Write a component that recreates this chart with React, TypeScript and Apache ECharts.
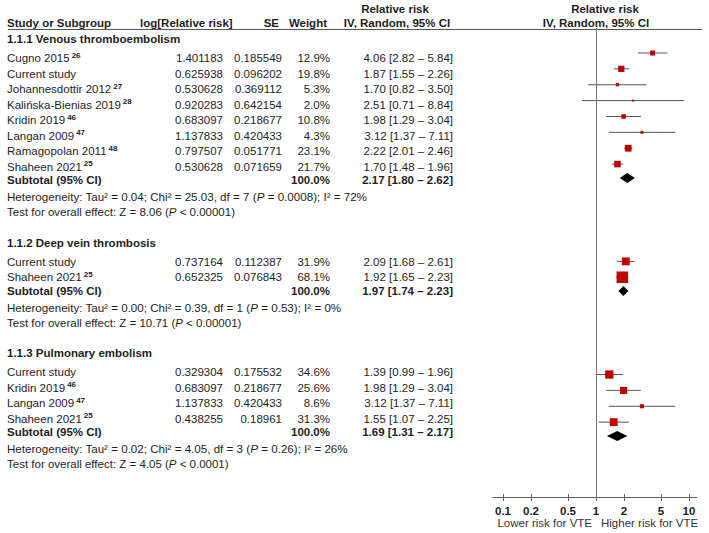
import React, { useEffect, useRef } from "react";
import * as echarts from "echarts";

// ---------------- DATA ----------------
const groupTitles = [
  "1.1.1 Venous thromboembolism",
  "1.1.2 Deep vein thrombosis",
  "1.1.3 Pulmonary embolism",
];

const studyNames = [
  ["Cugno 2015", "Current study", "Johannesdottir 2012", "Kalińska-Bienias 2019", "Kridin 2019", "Langan 2009", "Ramagopolan 2011", "Shaheen 2021"],
  ["Current study", "Shaheen 2021"],
  ["Current study", "Kridin 2019", "Langan 2009", "Shaheen 2021"],
];
const studyRefs = [
  ["26", "", "27", "28", "46", "47", "48", "25"],
  ["", "25"],
  ["", "46", "47", "25"],
];
const logRR = [
  [1.401183, 0.625938, 0.530628, 0.920283, 0.683097, 1.137833, 0.797507, 0.530628],
  [0.737164, 0.652325],
  [0.329304, 0.683097, 1.137833, 0.438255],
];
const seValues = [
  [0.185549, 0.096202, 0.369112, 0.642154, 0.218677, 0.420433, 0.051771, 0.071659],
  [0.112387, 0.076843],
  [0.175532, 0.218677, 0.420433, 0.18961],
];
const weights = [
  [12.9, 19.8, 5.3, 2.0, 10.8, 4.3, 23.1, 21.7],
  [31.9, 68.1],
  [34.6, 25.6, 8.6, 31.3],
];
const rrMid = [
  [4.06, 1.87, 1.7, 2.51, 1.98, 3.12, 2.22, 1.7],
  [2.09, 1.92],
  [1.39, 1.98, 3.12, 1.55],
];
const rrLow = [
  [2.82, 1.55, 0.82, 0.71, 1.29, 1.37, 2.01, 1.48],
  [1.68, 1.65],
  [0.99, 1.29, 1.37, 1.07],
];
const rrHigh = [
  [5.84, 2.26, 3.5, 8.84, 3.04, 7.11, 2.46, 1.96],
  [2.61, 2.23],
  [1.96, 3.04, 7.11, 2.25],
];
const subRR = [2.17, 1.97, 1.69];
const subLow = [1.8, 1.74, 1.31];
const subHigh = [2.62, 2.23, 2.17];
const hetTau = ["0.04", "0.00", "0.02"];
const hetChi = ["25.03", "0.39", "4.05"];
const hetDf = ["7", "1", "3"];
const hetP = ["0.0008", "0.53", "0.26"];
const hetI2 = ["72%", "0%", "26%"];
const testZ = ["8.06", "10.71", "4.05"];
const testP = ["< 0.00001", "< 0.00001", "< 0.0001"];
const tickValues = [0.1, 0.2, 0.5, 1, 2, 5, 10];

// ---------------- LAYOUT ----------------
const W = 709;
const H = 533;
const FONT = "Liberation Sans, Arial, sans-serif";
const FS = 11.5;
const FS_HET = 11.6;
const TEXT = "#1e1e1e";
const RED = "#c00000";

const colName = 7;
const colLog = 223;
const colSE = 282;
const colW = 330;
const colRR = 453;

const plotLeft = 493;
const plotRight = 697;
const plotTop = 28;
const plotBottom = 497;
const xMin = -1.1075;
const xMax = 1.086;
// marker rows are drawn slightly stretched relative to the text rows
const rowK = 1.024;
const rowC = -6.4;

function computeRows() {
  const out: any[] = [];
  let y = 39;
  for (let g = 0; g < groupTitles.length; g++) {
    const head = y;
    y += 19;
    const studies: number[] = [];
    for (let i = 0; i < studyNames[g].length; i++) {
      studies.push(y);
      if (i < studyNames[g].length - 1) y += 15.5;
    }
    y += 13.5;
    const sub = y;
    y += 16.5;
    const het = y;
    y += 15.5;
    const test = y;
    y += 30.5;
    out.push({ head, studies, sub, het, test });
  }
  return out;
}

function rrText(m: number, l: number, h: number) {
  return `${m.toFixed(2)} [${l.toFixed(2)} – ${h.toFixed(2)}]`;
}

function txt(x: number, y: number, text: string, opts: any = {}) {
  const align = opts.align || "left";
  return {
    type: "text",
    x,
    y,
    silent: true,
    style: {
      text,
      fill: opts.fill || TEXT,
      fontFamily: FONT,
      fontSize: opts.fontSize || FS,
      fontWeight: opts.bold ? "bold" : "normal",
      align,
      textAlign: align,
      verticalAlign: "middle",
      textVerticalAlign: "middle",
      rich: opts.rich,
    },
  };
}

const baseRich = {
  n: { fontFamily: FONT, fontSize: FS, fill: TEXT, color: TEXT, lineHeight: 14 },
  i: { fontFamily: FONT, fontSize: FS, fill: TEXT, color: TEXT, fontStyle: "italic", lineHeight: 14 },
  s: { fontFamily: FONT, fontSize: 8, fontWeight: "bold", fill: TEXT, color: TEXT, verticalAlign: "top", lineHeight: 8, padding: [0, 0, 0, 2] },
};
const hetRich = {
  n: { fontFamily: FONT, fontSize: FS_HET, fill: TEXT, color: TEXT, lineHeight: 14 },
  i: { fontFamily: FONT, fontSize: FS_HET, fill: TEXT, color: TEXT, fontStyle: "italic", lineHeight: 14 },
};

export default function App() {
  const ref = useRef<HTMLDivElement>(null);

  useEffect(() => {
    if (!ref.current) return;
    const chart = echarts.init(ref.current, undefined, { renderer: "svg" });
    const rows = computeRows();

    const graphics: any[] = [];
    // headers
    graphics.push(txt(395, 9, "Relative risk", { bold: true, align: "center" }));
    graphics.push(txt(605, 9, "Relative risk", { bold: true, align: "center" }));
    graphics.push(txt(7, 23, "Study or Subgroup", { bold: true }));
    graphics.push(txt(140, 23, "log[Relative risk]", { bold: true }));
    graphics.push(txt(279, 23, "SE", { bold: true, align: "right" }));
    graphics.push(txt(327, 23, "Weight", { bold: true, align: "right" }));
    graphics.push(txt(397, 23, "IV, Random, 95% CI", { bold: true, align: "center" }));
    graphics.push(txt(596, 23, "IV, Random, 95% CI", { bold: true, align: "center" }));
    graphics.push({
      type: "line",
      silent: true,
      shape: { x1: 8, y1: 29.5, x2: 702, y2: 29.5 },
      style: { stroke: "#555", lineWidth: 1 },
    });

    const studyData: any[] = [];
    const diamondData: any[] = [];

    rows.forEach((r: any, g: number) => {
      graphics.push(txt(colName, r.head, groupTitles[g], { bold: true }));
      studyNames[g].forEach((name: string, i: number) => {
        const y = r.studies[i];
        const ref = studyRefs[g][i];
        if (ref) {
          graphics.push(txt(colName, y, `{n|${name}}{s|${ref}}`, { rich: baseRich }));
        } else {
          graphics.push(txt(colName, y, name));
        }
        graphics.push(txt(colLog, y, String(logRR[g][i]), { align: "right" }));
        graphics.push(txt(colSE, y, String(seValues[g][i]), { align: "right" }));
        graphics.push(txt(colW, y, weights[g][i].toFixed(1) + "%", { align: "right" }));
        graphics.push(txt(colRR, y, rrText(rrMid[g][i], rrLow[g][i], rrHigh[g][i]), { align: "right" }));
        studyData.push([
          Math.log10(rrMid[g][i]),
          y,
          Math.log10(rrLow[g][i]),
          Math.log10(rrHigh[g][i]),
          weights[g][i],
        ]);
      });
      graphics.push(txt(colName, r.sub, "Subtotal (95% CI)", { bold: true }));
      graphics.push(txt(colW, r.sub, "100.0%", { bold: true, align: "right" }));
      graphics.push(txt(colRR, r.sub, rrText(subRR[g], subLow[g], subHigh[g]), { bold: true, align: "right" }));
      diamondData.push([Math.log10(subRR[g]), r.sub, Math.log10(subLow[g]), Math.log10(subHigh[g])]);

      graphics.push(
        txt(
          colName,
          r.het,
          `{n|Heterogeneity: Tau² = ${hetTau[g]}; Chi² = ${hetChi[g]}, df = ${hetDf[g]} (}{i|P}{n| = ${hetP[g]}); I² = ${hetI2[g]}}`,
          { rich: hetRich }
        )
      );
      graphics.push(
        txt(colName, r.test, `{n|Test for overall effect: Z = ${testZ[g]} (}{i|P}{n| ${testP[g]})}`, {
          rich: baseRich,
        })
      );
    });

    graphics.push(txt(592, 523, "Lower risk for VTE", { align: "right", fill: "#333" }));
    graphics.push(txt(601, 523, "Higher risk for VTE", { align: "left", fill: "#333" }));

    const gridH = plotBottom - plotTop;
    const yMin = (plotTop - rowC) / rowK;
    const yMax = yMin + gridH / rowK;
    const tickLogs = tickValues.map((t) => Math.log10(t));

    const option: any = {
      animation: false,
      grid: {
        left: plotLeft,
        right: W - plotRight,
        top: plotTop,
        bottom: H - plotBottom,
        containLabel: false,
      },
      xAxis: [
        {
          type: "value",
          min: xMin,
          max: xMax,
          axisLine: { show: true, lineStyle: { color: "#666", width: 1 } },
          axisTick: { show: true, customValues: tickLogs, length: 4, lineStyle: { color: "#666" } },
          axisLabel: {
            show: true,
            customValues: tickLogs,
            margin: 8,
            fontFamily: FONT,
            fontSize: FS,
            fontWeight: "bold",
            color: TEXT,
            formatter: (v: number) => {
              const t = tickValues.find((tv) => Math.abs(Math.log10(tv) - v) < 1e-6);
              return t === undefined ? "" : String(t);
            },
          },
          splitLine: { show: false },
        },
        {
          type: "value",
          position: "bottom",
          min: xMin,
          max: xMax,
          axisLine: { show: false },
          axisTick: { show: true, inside: true, customValues: tickLogs, length: 3, lineStyle: { color: "#666" } },
          axisLabel: { show: false },
          splitLine: { show: false },
        },
      ],
      yAxis: {
        type: "value",
        inverse: true,
        min: yMin,
        max: yMax,
        show: false,
        splitLine: { show: false },
      },
      series: [
        {
          type: "custom",
          name: "studies",
          data: studyData,
          encode: { x: 0, y: 1 },
          clip: false,
          renderItem: (params: any, api: any) => {
            const y = api.value(1);
            const c = api.coord([api.value(0), y]);
            const lo = api.coord([api.value(2), y]);
            const hi = api.coord([api.value(3), y]);
            const s = Math.max(2, 1.4 * Math.sqrt(api.value(4)));
            return {
              type: "group",
              children: [
                {
                  type: "line",
                  shape: { x1: lo[0], y1: c[1], x2: hi[0], y2: c[1] },
                  style: { stroke: "#555", lineWidth: 1 },
                },
                {
                  type: "rect",
                  shape: { x: c[0] - s / 2, y: c[1] - s / 2, width: s, height: s },
                  style: { fill: RED },
                },
              ],
            };
          },
          markLine: {
            silent: true,
            symbol: ["none", "none"],
            label: { show: false },
            lineStyle: { color: "#777", width: 1, type: "solid" },
            data: [{ xAxis: 0 }],
          },
          z: 3,
        },
        {
          type: "custom",
          name: "subtotals",
          data: diamondData,
          encode: { x: 0, y: 1 },
          renderItem: (params: any, api: any) => {
            const y = api.value(1);
            const c = api.coord([api.value(0), y]);
            const lo = api.coord([api.value(2), y]);
            const hi = api.coord([api.value(3), y]);
            const hh = 5;
            return {
              type: "polygon",
              shape: {
                points: [
                  [lo[0], c[1]],
                  [c[0], c[1] - hh],
                  [hi[0], c[1]],
                  [c[0], c[1] + hh],
                ],
              },
              style: { fill: "#000" },
            };
          },
          z: 3,
        },
      ],
      graphic: { elements: graphics },
    };

    chart.setOption(option);
    return () => chart.dispose();
  }, []);

  return (
    <div
      ref={ref}
      style={{ position: "fixed", left: 0, top: 0, width: W, height: H, background: "#fff" }}
    />
  );
}
